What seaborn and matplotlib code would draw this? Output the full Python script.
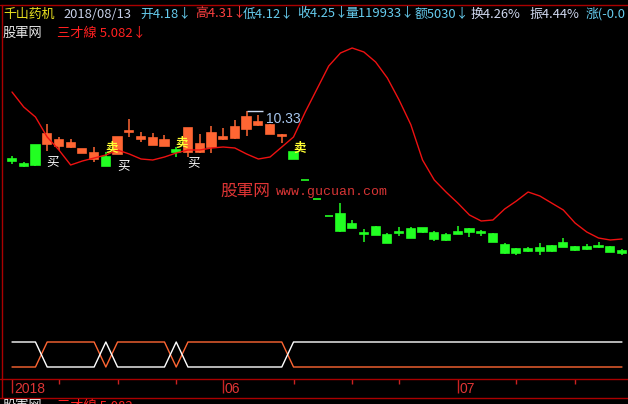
import seaborn as sns
import pandas as pd
import matplotlib.pyplot as plt
from matplotlib.lines import Line2D

# Datos (precios por vela, orden cronologico)
apertura = [8.89, 8.74, 9.31, 9.34, 9.28, 9.25, 9.07, 8.89, 8.95, 9.04,
            9.70, 9.49, 9.31, 9.28, 9.16, 9.10, 9.10, 9.25, 9.49, 9.52,
            9.79, 9.91, 9.64, 9.58, 9.10, 8.26, 7.69, 7.18, 7.24, 6.94,
            6.67, 6.85, 6.61, 6.70, 6.79, 6.82, 6.67, 6.61, 6.70, 6.79,
            6.70, 6.64, 6.31, 6.19, 6.19, 6.22, 6.28, 6.37, 6.25, 6.25,
            6.28, 6.25, 6.13]
maximo = [8.98, 8.80, 9.31, 9.94, 9.55, 9.49, 9.19, 9.25, 9.10, 9.55,
          10.09, 9.70, 9.67, 9.61, 9.25, 9.82, 9.64, 9.88, 9.82, 10.06,
          10.33, 10.21, 9.94, 9.64, 9.10, 8.26, 7.69, 7.18, 7.57, 7.06,
          6.79, 6.88, 6.67, 6.85, 6.85, 6.82, 6.73, 6.67, 6.88, 6.82,
          6.76, 6.67, 6.37, 6.22, 6.25, 6.37, 6.31, 6.52, 6.28, 6.34,
          6.40, 6.28, 6.19]
minimo = [8.74, 8.65, 8.68, 9.13, 9.16, 9.22, 9.07, 8.80, 8.68, 9.04,
          9.55, 9.40, 9.31, 9.28, 8.95, 8.95, 9.07, 9.07, 9.46, 9.49,
          9.58, 9.88, 9.64, 9.37, 8.89, 8.26, 7.69, 7.18, 6.70, 6.82,
          6.40, 6.61, 6.37, 6.58, 6.52, 6.67, 6.43, 6.43, 6.64, 6.55,
          6.58, 6.40, 6.04, 6.01, 6.10, 6.01, 6.10, 6.25, 6.13, 6.16,
          6.22, 6.10, 6.01]
cierre = [8.83, 8.68, 8.71, 9.64, 9.46, 9.37, 9.19, 9.07, 8.68, 9.55,
          9.73, 9.55, 9.52, 9.46, 9.10, 9.82, 9.34, 9.67, 9.55, 9.85,
          10.15, 10.00, 9.91, 9.61, 8.89, 8.26, 7.69, 7.18, 6.73, 6.82,
          6.64, 6.61, 6.37, 6.67, 6.52, 6.70, 6.49, 6.46, 6.64, 6.70,
          6.67, 6.40, 6.07, 6.07, 6.13, 6.13, 6.13, 6.25, 6.16, 6.19,
          6.25, 6.10, 6.07]
# 三才線
sancai = [10.90, 10.45, 10.15, 9.55, 9.16, 8.71, 8.83, 8.92, 9.01, 9.16,
          9.04, 8.89, 8.86, 8.95, 9.07, 9.16, 9.16, 9.22, 9.25, 9.22,
          9.04, 8.89, 8.95, 9.25, 9.55, 10.30, 10.99, 11.68, 12.07, 12.22,
          12.10, 11.80, 11.32, 10.66, 9.92, 8.86, 8.26, 7.90, 7.57, 7.21,
          7.03, 7.06, 7.39, 7.63, 7.90, 7.78, 7.57, 7.36, 6.97, 6.70,
          6.52, 6.46, 6.49]
# señal del panel inferior (1 = linea blanca arriba)
senal = [1, 1, 1, 0, 0, 0, 0, 0, 1, 0, 0, 0, 0, 0, 1, 0, 0, 0, 0, 0,
         0, 0, 0, 0] + [1] * 29
compra_idx = [3, 9, 15]
compra_y = [8.80, 8.68, 8.77]
venta_idx = [8, 14, 24]
venta_y = [9.22, 9.37, 9.22]
ticks_idx = [0, 4, 9, 14, 18, 24, 29, 33, 38, 43, 48]
ticks_lbl = {0: "2018", 18: "06", 38: "07"}

df = pd.DataFrame({"o": apertura, "h": maximo, "l": minimo, "c": cierre,
                   "linea": sancai, "senal": senal})
df["idx"] = range(len(df))
df["otra"] = 1 - df["senal"]

sns.set_theme(style="dark", rc={"figure.facecolor": "black", "axes.facecolor": "black"})
plt.rcParams['font.family'] = ['Noto Sans CJK SC', 'DejaVu Sans']

W, H = 628, 404
def caja(x0, y0, x1, y1):
    return [x0 / W, 1 - y1 / H, (x1 - x0) / W, (y1 - y0) / H]

fig = plt.figure(figsize=(6.28, 4.04), dpi=100)
xlim = ((2 - 12) / 11.73, (628 - 12) / 11.73)

ax = fig.add_axes(caja(2, 5, 628, 335))
ax2 = fig.add_axes(caja(2, 335, 628, 379))
ax3 = fig.add_axes(caja(2, 379, 628, 398))
for a in (ax, ax2, ax3):
    a.set_facecolor("black")
    a.set_xlim(*xlim)
    a.set_xticks([])
    a.set_yticks([])
    a.set_xlabel("")
    a.set_ylabel("")
    for s in a.spines.values():
        s.set_visible(False)

ax.set_ylim(13.66 - 0.03 * 335, 13.66 - 0.03 * 5)
ax2.set_ylim(-0.48, 1.28)
ax3.set_ylim(0, 1)

# Velas
rojo = "#ff6633"
verde = "#22ff22"
colores = [rojo if c > o else verde for o, c in zip(df["o"], df["c"])]
ax.vlines(df["idx"], df["l"], df["h"], colors=colores, lw=1.1)
cuerpo_abajo = df[["o", "c"]].min(axis=1)
cuerpo_alto = (df["c"] - df["o"]).abs()
ax.bar(df["idx"], cuerpo_alto, bottom=cuerpo_abajo, width=0.7,
       color=colores, edgecolor=colores, linewidth=1.2)

# Linea 三才線
sns.lineplot(data=df, x="idx", y="linea", ax=ax, color="#ee1111", lw=1)
ax.set_xlabel("")
ax.set_ylabel("")

# 买 / 卖
for i, y in zip(compra_idx, compra_y):
    ax.text(i - 0.05, y, "买", color="white", fontsize=9, ha="left", va="center")
for i, y in zip(venta_idx, venta_y):
    ax.text(i - 0.05, y, "卖", color="#ffff33", fontsize=9, ha="left", va="center",
            fontweight="bold")

# maximo marcado
imax = df["h"].idxmax()
ax.hlines(df["h"][imax], imax, imax + 1.4, colors="#c8d8f0", lw=1)
ax.text(imax + 1.65, df["h"][imax] - 0.25, f"{df['h'][imax]:.2f}", color="#a8c8f0",
        fontsize=10, ha="left", va="center", family=["Liberation Sans"])

# Marca de agua
fig.text(220 / W, 1 - 191 / H, "股軍网", color="#e03535", fontsize=12, va="center")
fig.text(276 / W, 1 - 192 / H, "www.gucuan.com", color="#d83535", fontsize=9.5,
         va="center", family=["Liberation Mono"])

# Panel inferior
sns.lineplot(data=df, x="idx", y="otra", ax=ax2, color="#ff6633", lw=1)
sns.lineplot(data=df, x="idx", y="senal", ax=ax2, color="white", lw=1)
ax2.set_xlabel("")
ax2.set_ylabel("")

# Eje de fechas
for t in ticks_idx:
    largo = 0.26 if t in ticks_lbl else 0.74
    ax3.vlines(t, largo, 1, colors="#cc2222", lw=1)
    if t in ticks_lbl:
        ax3.text(t + 0.15, 0.45, ticks_lbl[t], color="#e03535", fontsize=10,
                 ha="left", va="center", family=["Liberation Sans"])

# Bordes rojos
borde = "#aa0000"
for yy in (5, 379, 398):
    fig.add_artist(Line2D([0, 1], [1 - yy / H] * 2, color=borde, lw=1))
fig.add_artist(Line2D([2 / W] * 2, [1 - 5 / H, 1 - 398 / H], color=borde, lw=1))

# Cabecera
cian = "#66ccee"
cabecera = [
    (3, "千山药机", "#e8e020"),
    (63, "2018/08/13", "#c8d0e8"),
    (140, "开4.18↓", cian),
    (195, "高4.31↓", "#ff4040"),
    (243, "低4.12↓", cian),
    (297, "收4.25↓", cian),
    (345, "量119933↓", cian),
    (415, "额5030↓", cian),
    (471, "换4.26%", "#d0d8f0"),
    (529, "振4.44%", "#d0d8f0"),
    (586, "涨(-0.0", cian),
]
for x, txt, col in cabecera:
    fig.text(x / W, 1 - 14 / H, txt, color=col, fontsize=9.3, va="center")
fig.text(3 / W, 1 - 33 / H, "股軍网", color="#e8e8e8", fontsize=9.5, va="center")
fig.text(57 / W, 1 - 33 / H, "三才線 5.082↓", color="#ff2020", fontsize=9.5, va="center")
fig.text(3 / W, 1 - 400 / H, "股軍网", color="#e8e8e8", fontsize=9.5, va="top")
fig.text(57 / W, 1 - 400 / H, "三才線 5.082", color="#ff2020", fontsize=9.5, va="top")

plt.savefig("out.png", dpi=100, facecolor="black")
plt.close()
